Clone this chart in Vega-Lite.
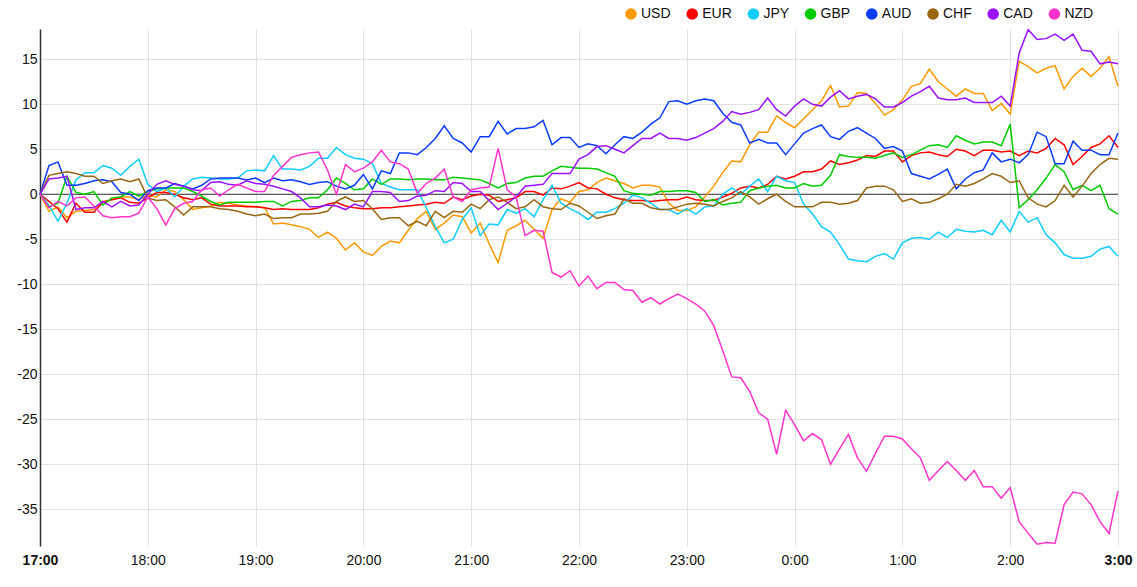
{
"$schema":"https://vega.github.io/schema/vega-lite/v6.json",
"width":1078,"height":517,
"autosize":{"type":"none"},
"padding":{"left":40,"top":29,"right":19,"bottom":41},
"config":{"view":{"stroke":null},"font":"Liberation Sans"},
"layer":[
{"data":{"values":[{}]},
"mark":{"type":"rule","color":"#333333","strokeWidth":1},
"encoding":{"y":{"datum":0,"type":"quantitative","scale":{"domain":[-39.1,18.37],"nice":false,"zero":false}}}},
{"data":{"values":[
{"t":"2024-01-01T17:00","c":"USD","v":0},{"t":"2024-01-01T17:05","c":"USD","v":-1.9},{"t":"2024-01-01T17:10","c":"USD","v":-1.4},{"t":"2024-01-01T17:15","c":"USD","v":-2.6},{"t":"2024-01-01T17:20","c":"USD","v":-1.9},{"t":"2024-01-01T17:25","c":"USD","v":-1.8},{"t":"2024-01-01T17:30","c":"USD","v":-1.7},{"t":"2024-01-01T17:35","c":"USD","v":-0.8},{"t":"2024-01-01T17:40","c":"USD","v":-0.6},{"t":"2024-01-01T17:45","c":"USD","v":-0.3},{"t":"2024-01-01T17:50","c":"USD","v":-0.3},{"t":"2024-01-01T17:55","c":"USD","v":-0.6},
{"t":"2024-01-01T18:00","c":"USD","v":-0.1},{"t":"2024-01-01T18:05","c":"USD","v":-0.3},{"t":"2024-01-01T18:10","c":"USD","v":0.5},{"t":"2024-01-01T18:15","c":"USD","v":0.3},{"t":"2024-01-01T18:20","c":"USD","v":-0.6},{"t":"2024-01-01T18:25","c":"USD","v":-1.7},{"t":"2024-01-01T18:30","c":"USD","v":-1.5},{"t":"2024-01-01T18:35","c":"USD","v":-1.3},{"t":"2024-01-01T18:40","c":"USD","v":-0.9},{"t":"2024-01-01T18:45","c":"USD","v":-1.0},{"t":"2024-01-01T18:50","c":"USD","v":-1.2},{"t":"2024-01-01T18:55","c":"USD","v":-1.3},
{"t":"2024-01-01T19:00","c":"USD","v":-1.4},{"t":"2024-01-01T19:05","c":"USD","v":-1.5},{"t":"2024-01-01T19:10","c":"USD","v":-3.3},{"t":"2024-01-01T19:15","c":"USD","v":-3.2},{"t":"2024-01-01T19:20","c":"USD","v":-3.4},{"t":"2024-01-01T19:25","c":"USD","v":-3.6},{"t":"2024-01-01T19:30","c":"USD","v":-3.9},{"t":"2024-01-01T19:35","c":"USD","v":-4.8},{"t":"2024-01-01T19:40","c":"USD","v":-4.2},{"t":"2024-01-01T19:45","c":"USD","v":-4.9},{"t":"2024-01-01T19:50","c":"USD","v":-6.2},{"t":"2024-01-01T19:55","c":"USD","v":-5.4},
{"t":"2024-01-01T20:00","c":"USD","v":-6.4},{"t":"2024-01-01T20:05","c":"USD","v":-6.8},{"t":"2024-01-01T20:10","c":"USD","v":-5.8},{"t":"2024-01-01T20:15","c":"USD","v":-5.2},{"t":"2024-01-01T20:20","c":"USD","v":-5.4},{"t":"2024-01-01T20:25","c":"USD","v":-4.0},{"t":"2024-01-01T20:30","c":"USD","v":-2.7},{"t":"2024-01-01T20:35","c":"USD","v":-1.9},{"t":"2024-01-01T20:40","c":"USD","v":-3.9},{"t":"2024-01-01T20:45","c":"USD","v":-3.2},{"t":"2024-01-01T20:50","c":"USD","v":-2.3},{"t":"2024-01-01T20:55","c":"USD","v":-2.5},
{"t":"2024-01-01T21:00","c":"USD","v":-4.3},{"t":"2024-01-01T21:05","c":"USD","v":-3.2},{"t":"2024-01-01T21:10","c":"USD","v":-5.5},{"t":"2024-01-01T21:15","c":"USD","v":-7.6},{"t":"2024-01-01T21:20","c":"USD","v":-4.0},{"t":"2024-01-01T21:25","c":"USD","v":-3.5},{"t":"2024-01-01T21:30","c":"USD","v":-2.9},{"t":"2024-01-01T21:35","c":"USD","v":-3.9},{"t":"2024-01-01T21:40","c":"USD","v":-4.9},{"t":"2024-01-01T21:45","c":"USD","v":-1.7},{"t":"2024-01-01T21:50","c":"USD","v":-0.5},{"t":"2024-01-01T21:55","c":"USD","v":-0.9},
{"t":"2024-01-01T22:00","c":"USD","v":0.3},{"t":"2024-01-01T22:05","c":"USD","v":0.5},{"t":"2024-01-01T22:10","c":"USD","v":1.3},{"t":"2024-01-01T22:15","c":"USD","v":1.8},{"t":"2024-01-01T22:20","c":"USD","v":1.5},{"t":"2024-01-01T22:25","c":"USD","v":1.2},{"t":"2024-01-01T22:30","c":"USD","v":0.7},{"t":"2024-01-01T22:35","c":"USD","v":1.0},{"t":"2024-01-01T22:40","c":"USD","v":1.0},{"t":"2024-01-01T22:45","c":"USD","v":0.8},{"t":"2024-01-01T22:50","c":"USD","v":-1.0},{"t":"2024-01-01T22:55","c":"USD","v":-1.8},
{"t":"2024-01-01T23:00","c":"USD","v":-1.8},{"t":"2024-01-01T23:05","c":"USD","v":-1.4},{"t":"2024-01-01T23:10","c":"USD","v":-0.3},{"t":"2024-01-01T23:15","c":"USD","v":0.9},{"t":"2024-01-01T23:20","c":"USD","v":2.4},{"t":"2024-01-01T23:25","c":"USD","v":3.7},{"t":"2024-01-01T23:30","c":"USD","v":3.6},{"t":"2024-01-01T23:35","c":"USD","v":5.5},{"t":"2024-01-01T23:40","c":"USD","v":6.9},{"t":"2024-01-01T23:45","c":"USD","v":6.9},{"t":"2024-01-01T23:50","c":"USD","v":8.7},{"t":"2024-01-01T23:55","c":"USD","v":8.0},
{"t":"2024-01-02T00:00","c":"USD","v":7.4},{"t":"2024-01-02T00:05","c":"USD","v":8.4},{"t":"2024-01-02T00:10","c":"USD","v":9.4},{"t":"2024-01-02T00:15","c":"USD","v":10.4},{"t":"2024-01-02T00:20","c":"USD","v":12.1},{"t":"2024-01-02T00:25","c":"USD","v":9.7},{"t":"2024-01-02T00:30","c":"USD","v":9.8},{"t":"2024-01-02T00:35","c":"USD","v":11.3},{"t":"2024-01-02T00:40","c":"USD","v":11.2},{"t":"2024-01-02T00:45","c":"USD","v":10.1},{"t":"2024-01-02T00:50","c":"USD","v":8.8},{"t":"2024-01-02T00:55","c":"USD","v":9.4},
{"t":"2024-01-02T01:00","c":"USD","v":10.5},{"t":"2024-01-02T01:05","c":"USD","v":12.0},{"t":"2024-01-02T01:10","c":"USD","v":12.3},{"t":"2024-01-02T01:15","c":"USD","v":13.9},{"t":"2024-01-02T01:20","c":"USD","v":12.5},{"t":"2024-01-02T01:25","c":"USD","v":11.7},{"t":"2024-01-02T01:30","c":"USD","v":10.9},{"t":"2024-01-02T01:35","c":"USD","v":11.7},{"t":"2024-01-02T01:40","c":"USD","v":11.2},{"t":"2024-01-02T01:45","c":"USD","v":11.2},{"t":"2024-01-02T01:50","c":"USD","v":9.3},{"t":"2024-01-02T01:55","c":"USD","v":10.1},
{"t":"2024-01-02T02:00","c":"USD","v":8.9},{"t":"2024-01-02T02:05","c":"USD","v":14.8},{"t":"2024-01-02T02:10","c":"USD","v":14.2},{"t":"2024-01-02T02:15","c":"USD","v":13.5},{"t":"2024-01-02T02:20","c":"USD","v":14.0},{"t":"2024-01-02T02:25","c":"USD","v":14.3},{"t":"2024-01-02T02:30","c":"USD","v":11.7},{"t":"2024-01-02T02:35","c":"USD","v":13.1},{"t":"2024-01-02T02:40","c":"USD","v":14.0},{"t":"2024-01-02T02:45","c":"USD","v":13.1},{"t":"2024-01-02T02:50","c":"USD","v":14.0},{"t":"2024-01-02T02:55","c":"USD","v":15.3},
{"t":"2024-01-02T03:00","c":"USD","v":12.0},
{"t":"2024-01-01T17:00","c":"EUR","v":0},{"t":"2024-01-01T17:05","c":"EUR","v":-0.8},{"t":"2024-01-01T17:10","c":"EUR","v":-1.6},{"t":"2024-01-01T17:15","c":"EUR","v":-3.1},{"t":"2024-01-01T17:20","c":"EUR","v":-1.0},{"t":"2024-01-01T17:25","c":"EUR","v":-2.0},{"t":"2024-01-01T17:30","c":"EUR","v":-2.0},{"t":"2024-01-01T17:35","c":"EUR","v":-0.9},{"t":"2024-01-01T17:40","c":"EUR","v":-0.6},{"t":"2024-01-01T17:45","c":"EUR","v":-0.4},{"t":"2024-01-01T17:50","c":"EUR","v":-0.9},{"t":"2024-01-01T17:55","c":"EUR","v":-1.0},
{"t":"2024-01-01T18:00","c":"EUR","v":-0.4},{"t":"2024-01-01T18:05","c":"EUR","v":0.2},{"t":"2024-01-01T18:10","c":"EUR","v":0.2},{"t":"2024-01-01T18:15","c":"EUR","v":0.0},{"t":"2024-01-01T18:20","c":"EUR","v":-0.4},{"t":"2024-01-01T18:25","c":"EUR","v":-0.6},{"t":"2024-01-01T18:30","c":"EUR","v":-0.4},{"t":"2024-01-01T18:35","c":"EUR","v":-1.1},{"t":"2024-01-01T18:40","c":"EUR","v":-1.3},{"t":"2024-01-01T18:45","c":"EUR","v":-1.3},{"t":"2024-01-01T18:50","c":"EUR","v":-1.3},{"t":"2024-01-01T18:55","c":"EUR","v":-1.4},
{"t":"2024-01-01T19:00","c":"EUR","v":-1.4},{"t":"2024-01-01T19:05","c":"EUR","v":-1.5},{"t":"2024-01-01T19:10","c":"EUR","v":-1.7},{"t":"2024-01-01T19:15","c":"EUR","v":-1.6},{"t":"2024-01-01T19:20","c":"EUR","v":-1.7},{"t":"2024-01-01T19:25","c":"EUR","v":-1.7},{"t":"2024-01-01T19:30","c":"EUR","v":-1.7},{"t":"2024-01-01T19:35","c":"EUR","v":-1.5},{"t":"2024-01-01T19:40","c":"EUR","v":-1.1},{"t":"2024-01-01T19:45","c":"EUR","v":-0.9},{"t":"2024-01-01T19:50","c":"EUR","v":-1.3},{"t":"2024-01-01T19:55","c":"EUR","v":-1.5},
{"t":"2024-01-01T20:00","c":"EUR","v":-1.6},{"t":"2024-01-01T20:05","c":"EUR","v":-1.6},{"t":"2024-01-01T20:10","c":"EUR","v":-1.5},{"t":"2024-01-01T20:15","c":"EUR","v":-1.5},{"t":"2024-01-01T20:20","c":"EUR","v":-1.4},{"t":"2024-01-01T20:25","c":"EUR","v":-1.3},{"t":"2024-01-01T20:30","c":"EUR","v":-1.2},{"t":"2024-01-01T20:35","c":"EUR","v":-1.1},{"t":"2024-01-01T20:40","c":"EUR","v":-0.9},{"t":"2024-01-01T20:45","c":"EUR","v":-1.0},{"t":"2024-01-01T20:50","c":"EUR","v":-0.3},{"t":"2024-01-01T20:55","c":"EUR","v":-0.6},
{"t":"2024-01-01T21:00","c":"EUR","v":-0.2},{"t":"2024-01-01T21:05","c":"EUR","v":0.0},{"t":"2024-01-01T21:10","c":"EUR","v":-0.1},{"t":"2024-01-01T21:15","c":"EUR","v":-0.8},{"t":"2024-01-01T21:20","c":"EUR","v":-0.6},{"t":"2024-01-01T21:25","c":"EUR","v":-0.4},{"t":"2024-01-01T21:30","c":"EUR","v":0.3},{"t":"2024-01-01T21:35","c":"EUR","v":0.3},{"t":"2024-01-01T21:40","c":"EUR","v":-0.1},{"t":"2024-01-01T21:45","c":"EUR","v":0.7},{"t":"2024-01-01T21:50","c":"EUR","v":0.6},{"t":"2024-01-01T21:55","c":"EUR","v":0.9},
{"t":"2024-01-01T22:00","c":"EUR","v":1.3},{"t":"2024-01-01T22:05","c":"EUR","v":0.7},{"t":"2024-01-01T22:10","c":"EUR","v":0.6},{"t":"2024-01-01T22:15","c":"EUR","v":0.0},{"t":"2024-01-01T22:20","c":"EUR","v":-0.4},{"t":"2024-01-01T22:25","c":"EUR","v":-0.6},{"t":"2024-01-01T22:30","c":"EUR","v":-0.7},{"t":"2024-01-01T22:35","c":"EUR","v":-0.7},{"t":"2024-01-01T22:40","c":"EUR","v":-0.8},{"t":"2024-01-01T22:45","c":"EUR","v":-0.7},{"t":"2024-01-01T22:50","c":"EUR","v":-0.6},{"t":"2024-01-01T22:55","c":"EUR","v":-0.6},
{"t":"2024-01-01T23:00","c":"EUR","v":-0.3},{"t":"2024-01-01T23:05","c":"EUR","v":-0.6},{"t":"2024-01-01T23:10","c":"EUR","v":-0.7},{"t":"2024-01-01T23:15","c":"EUR","v":-0.7},{"t":"2024-01-01T23:20","c":"EUR","v":-0.3},{"t":"2024-01-01T23:25","c":"EUR","v":0.1},{"t":"2024-01-01T23:30","c":"EUR","v":0.7},{"t":"2024-01-01T23:35","c":"EUR","v":0.9},{"t":"2024-01-01T23:40","c":"EUR","v":0.7},{"t":"2024-01-01T23:45","c":"EUR","v":1.1},{"t":"2024-01-01T23:50","c":"EUR","v":2.0},{"t":"2024-01-01T23:55","c":"EUR","v":1.7},
{"t":"2024-01-02T00:00","c":"EUR","v":2.0},{"t":"2024-01-02T00:05","c":"EUR","v":2.5},{"t":"2024-01-02T00:10","c":"EUR","v":2.5},{"t":"2024-01-02T00:15","c":"EUR","v":2.8},{"t":"2024-01-02T00:20","c":"EUR","v":3.7},{"t":"2024-01-02T00:25","c":"EUR","v":3.3},{"t":"2024-01-02T00:30","c":"EUR","v":3.5},{"t":"2024-01-02T00:35","c":"EUR","v":3.8},{"t":"2024-01-02T00:40","c":"EUR","v":4.3},{"t":"2024-01-02T00:45","c":"EUR","v":4.2},{"t":"2024-01-02T00:50","c":"EUR","v":4.8},{"t":"2024-01-02T00:55","c":"EUR","v":4.8},
{"t":"2024-01-02T01:00","c":"EUR","v":3.6},{"t":"2024-01-02T01:05","c":"EUR","v":4.3},{"t":"2024-01-02T01:10","c":"EUR","v":4.6},{"t":"2024-01-02T01:15","c":"EUR","v":4.7},{"t":"2024-01-02T01:20","c":"EUR","v":4.4},{"t":"2024-01-02T01:25","c":"EUR","v":4.2},{"t":"2024-01-02T01:30","c":"EUR","v":5.0},{"t":"2024-01-02T01:35","c":"EUR","v":4.8},{"t":"2024-01-02T01:40","c":"EUR","v":4.3},{"t":"2024-01-02T01:45","c":"EUR","v":4.9},{"t":"2024-01-02T01:50","c":"EUR","v":4.9},{"t":"2024-01-02T01:55","c":"EUR","v":4.7},
{"t":"2024-01-02T02:00","c":"EUR","v":4.8},{"t":"2024-01-02T02:05","c":"EUR","v":4.3},{"t":"2024-01-02T02:10","c":"EUR","v":4.8},{"t":"2024-01-02T02:15","c":"EUR","v":4.6},{"t":"2024-01-02T02:20","c":"EUR","v":5.1},{"t":"2024-01-02T02:25","c":"EUR","v":6.2},{"t":"2024-01-02T02:30","c":"EUR","v":5.5},{"t":"2024-01-02T02:35","c":"EUR","v":3.3},{"t":"2024-01-02T02:40","c":"EUR","v":4.2},{"t":"2024-01-02T02:45","c":"EUR","v":5.2},{"t":"2024-01-02T02:50","c":"EUR","v":5.6},{"t":"2024-01-02T02:55","c":"EUR","v":6.5},
{"t":"2024-01-02T03:00","c":"EUR","v":5.2},
{"t":"2024-01-01T17:00","c":"JPY","v":0},{"t":"2024-01-01T17:05","c":"JPY","v":-1.2},{"t":"2024-01-01T17:10","c":"JPY","v":-3.0},{"t":"2024-01-01T17:15","c":"JPY","v":-1.0},{"t":"2024-01-01T17:20","c":"JPY","v":1.6},{"t":"2024-01-01T17:25","c":"JPY","v":2.4},{"t":"2024-01-01T17:30","c":"JPY","v":2.4},{"t":"2024-01-01T17:35","c":"JPY","v":3.2},{"t":"2024-01-01T17:40","c":"JPY","v":2.9},{"t":"2024-01-01T17:45","c":"JPY","v":2.1},{"t":"2024-01-01T17:50","c":"JPY","v":3.1},{"t":"2024-01-01T17:55","c":"JPY","v":3.9},
{"t":"2024-01-01T18:00","c":"JPY","v":1.1},{"t":"2024-01-01T18:05","c":"JPY","v":0.3},{"t":"2024-01-01T18:10","c":"JPY","v":0.7},{"t":"2024-01-01T18:15","c":"JPY","v":-0.3},{"t":"2024-01-01T18:20","c":"JPY","v":0.9},{"t":"2024-01-01T18:25","c":"JPY","v":1.7},{"t":"2024-01-01T18:30","c":"JPY","v":1.9},{"t":"2024-01-01T18:35","c":"JPY","v":1.8},{"t":"2024-01-01T18:40","c":"JPY","v":1.7},{"t":"2024-01-01T18:45","c":"JPY","v":1.7},{"t":"2024-01-01T18:50","c":"JPY","v":1.8},{"t":"2024-01-01T18:55","c":"JPY","v":2.6},
{"t":"2024-01-01T19:00","c":"JPY","v":2.7},{"t":"2024-01-01T19:05","c":"JPY","v":2.6},{"t":"2024-01-01T19:10","c":"JPY","v":4.3},{"t":"2024-01-01T19:15","c":"JPY","v":2.8},{"t":"2024-01-01T19:20","c":"JPY","v":2.8},{"t":"2024-01-01T19:25","c":"JPY","v":2.7},{"t":"2024-01-01T19:30","c":"JPY","v":3.1},{"t":"2024-01-01T19:35","c":"JPY","v":4.0},{"t":"2024-01-01T19:40","c":"JPY","v":4.0},{"t":"2024-01-01T19:45","c":"JPY","v":5.2},{"t":"2024-01-01T19:50","c":"JPY","v":4.4},{"t":"2024-01-01T19:55","c":"JPY","v":4.0},
{"t":"2024-01-01T20:00","c":"JPY","v":3.9},{"t":"2024-01-01T20:05","c":"JPY","v":3.4},{"t":"2024-01-01T20:10","c":"JPY","v":1.2},{"t":"2024-01-01T20:15","c":"JPY","v":0.8},{"t":"2024-01-01T20:20","c":"JPY","v":0.5},{"t":"2024-01-01T20:25","c":"JPY","v":0.5},{"t":"2024-01-01T20:30","c":"JPY","v":0.5},{"t":"2024-01-01T20:35","c":"JPY","v":-1.5},{"t":"2024-01-01T20:40","c":"JPY","v":-3.6},{"t":"2024-01-01T20:45","c":"JPY","v":-5.4},{"t":"2024-01-01T20:50","c":"JPY","v":-5.0},{"t":"2024-01-01T20:55","c":"JPY","v":-2.8},
{"t":"2024-01-01T21:00","c":"JPY","v":-1.5},{"t":"2024-01-01T21:05","c":"JPY","v":-4.6},{"t":"2024-01-01T21:10","c":"JPY","v":-3.3},{"t":"2024-01-01T21:15","c":"JPY","v":-3.4},{"t":"2024-01-01T21:20","c":"JPY","v":-1.7},{"t":"2024-01-01T21:25","c":"JPY","v":-2.1},{"t":"2024-01-01T21:30","c":"JPY","v":-1.6},{"t":"2024-01-01T21:35","c":"JPY","v":-2.5},{"t":"2024-01-01T21:40","c":"JPY","v":-0.6},{"t":"2024-01-01T21:45","c":"JPY","v":1.0},{"t":"2024-01-01T21:50","c":"JPY","v":-1.0},{"t":"2024-01-01T21:55","c":"JPY","v":-1.6},
{"t":"2024-01-01T22:00","c":"JPY","v":-2.1},{"t":"2024-01-01T22:05","c":"JPY","v":-2.8},{"t":"2024-01-01T22:10","c":"JPY","v":-2.0},{"t":"2024-01-01T22:15","c":"JPY","v":-2.0},{"t":"2024-01-01T22:20","c":"JPY","v":-1.6},{"t":"2024-01-01T22:25","c":"JPY","v":-1.0},{"t":"2024-01-01T22:30","c":"JPY","v":-0.1},{"t":"2024-01-01T22:35","c":"JPY","v":-0.4},{"t":"2024-01-01T22:40","c":"JPY","v":-1.0},{"t":"2024-01-01T22:45","c":"JPY","v":-1.7},{"t":"2024-01-01T22:50","c":"JPY","v":-1.7},{"t":"2024-01-01T22:55","c":"JPY","v":-2.2},
{"t":"2024-01-01T23:00","c":"JPY","v":-1.6},{"t":"2024-01-01T23:05","c":"JPY","v":-2.2},{"t":"2024-01-01T23:10","c":"JPY","v":-1.4},{"t":"2024-01-01T23:15","c":"JPY","v":-1.3},{"t":"2024-01-01T23:20","c":"JPY","v":0.0},{"t":"2024-01-01T23:25","c":"JPY","v":0.7},{"t":"2024-01-01T23:30","c":"JPY","v":0.0},{"t":"2024-01-01T23:35","c":"JPY","v":0.9},{"t":"2024-01-01T23:40","c":"JPY","v":1.7},{"t":"2024-01-01T23:45","c":"JPY","v":0.3},{"t":"2024-01-01T23:50","c":"JPY","v":2.0},{"t":"2024-01-01T23:55","c":"JPY","v":1.5},
{"t":"2024-01-02T00:00","c":"JPY","v":1.3},{"t":"2024-01-02T00:05","c":"JPY","v":-1.1},{"t":"2024-01-02T00:10","c":"JPY","v":-2.2},{"t":"2024-01-02T00:15","c":"JPY","v":-3.6},{"t":"2024-01-02T00:20","c":"JPY","v":-4.2},{"t":"2024-01-02T00:25","c":"JPY","v":-5.6},{"t":"2024-01-02T00:30","c":"JPY","v":-7.2},{"t":"2024-01-02T00:35","c":"JPY","v":-7.4},{"t":"2024-01-02T00:40","c":"JPY","v":-7.5},{"t":"2024-01-02T00:45","c":"JPY","v":-6.9},{"t":"2024-01-02T00:50","c":"JPY","v":-6.6},{"t":"2024-01-02T00:55","c":"JPY","v":-7.2},
{"t":"2024-01-02T01:00","c":"JPY","v":-5.4},{"t":"2024-01-02T01:05","c":"JPY","v":-4.9},{"t":"2024-01-02T01:10","c":"JPY","v":-4.8},{"t":"2024-01-02T01:15","c":"JPY","v":-5.0},{"t":"2024-01-02T01:20","c":"JPY","v":-4.2},{"t":"2024-01-02T01:25","c":"JPY","v":-4.8},{"t":"2024-01-02T01:30","c":"JPY","v":-3.9},{"t":"2024-01-02T01:35","c":"JPY","v":-4.1},{"t":"2024-01-02T01:40","c":"JPY","v":-4.2},{"t":"2024-01-02T01:45","c":"JPY","v":-4.0},{"t":"2024-01-02T01:50","c":"JPY","v":-4.5},{"t":"2024-01-02T01:55","c":"JPY","v":-2.9},
{"t":"2024-01-02T02:00","c":"JPY","v":-4.2},{"t":"2024-01-02T02:05","c":"JPY","v":-1.9},{"t":"2024-01-02T02:10","c":"JPY","v":-3.1},{"t":"2024-01-02T02:15","c":"JPY","v":-2.6},{"t":"2024-01-02T02:20","c":"JPY","v":-4.5},{"t":"2024-01-02T02:25","c":"JPY","v":-5.4},{"t":"2024-01-02T02:30","c":"JPY","v":-6.7},{"t":"2024-01-02T02:35","c":"JPY","v":-7.1},{"t":"2024-01-02T02:40","c":"JPY","v":-7.1},{"t":"2024-01-02T02:45","c":"JPY","v":-6.9},{"t":"2024-01-02T02:50","c":"JPY","v":-6.1},{"t":"2024-01-02T02:55","c":"JPY","v":-5.8},
{"t":"2024-01-02T03:00","c":"JPY","v":-6.9},
{"t":"2024-01-01T17:00","c":"GBP","v":0},{"t":"2024-01-01T17:05","c":"GBP","v":-1.4},{"t":"2024-01-01T17:10","c":"GBP","v":-1.0},{"t":"2024-01-01T17:15","c":"GBP","v":2.0},{"t":"2024-01-01T17:20","c":"GBP","v":0.2},{"t":"2024-01-01T17:25","c":"GBP","v":0.0},{"t":"2024-01-01T17:30","c":"GBP","v":0.3},{"t":"2024-01-01T17:35","c":"GBP","v":-1.2},{"t":"2024-01-01T17:40","c":"GBP","v":-0.4},{"t":"2024-01-01T17:45","c":"GBP","v":-0.3},{"t":"2024-01-01T17:50","c":"GBP","v":0.3},{"t":"2024-01-01T17:55","c":"GBP","v":-0.2},
{"t":"2024-01-01T18:00","c":"GBP","v":0.3},{"t":"2024-01-01T18:05","c":"GBP","v":0.6},{"t":"2024-01-01T18:10","c":"GBP","v":0.7},{"t":"2024-01-01T18:15","c":"GBP","v":0.7},{"t":"2024-01-01T18:20","c":"GBP","v":0.7},{"t":"2024-01-01T18:25","c":"GBP","v":0.3},{"t":"2024-01-01T18:30","c":"GBP","v":-0.2},{"t":"2024-01-01T18:35","c":"GBP","v":-0.8},{"t":"2024-01-01T18:40","c":"GBP","v":-1.2},{"t":"2024-01-01T18:45","c":"GBP","v":-0.9},{"t":"2024-01-01T18:50","c":"GBP","v":-0.9},{"t":"2024-01-01T18:55","c":"GBP","v":-0.9},
{"t":"2024-01-01T19:00","c":"GBP","v":-0.9},{"t":"2024-01-01T19:05","c":"GBP","v":-0.8},{"t":"2024-01-01T19:10","c":"GBP","v":-0.8},{"t":"2024-01-01T19:15","c":"GBP","v":-1.3},{"t":"2024-01-01T19:20","c":"GBP","v":-0.8},{"t":"2024-01-01T19:25","c":"GBP","v":-0.7},{"t":"2024-01-01T19:30","c":"GBP","v":-0.4},{"t":"2024-01-01T19:35","c":"GBP","v":-0.4},{"t":"2024-01-01T19:40","c":"GBP","v":0.5},{"t":"2024-01-01T19:45","c":"GBP","v":1.8},{"t":"2024-01-01T19:50","c":"GBP","v":1.2},{"t":"2024-01-01T19:55","c":"GBP","v":0.5},
{"t":"2024-01-01T20:00","c":"GBP","v":0.6},{"t":"2024-01-01T20:05","c":"GBP","v":1.7},{"t":"2024-01-01T20:10","c":"GBP","v":1.1},{"t":"2024-01-01T20:15","c":"GBP","v":1.7},{"t":"2024-01-01T20:20","c":"GBP","v":1.7},{"t":"2024-01-01T20:25","c":"GBP","v":1.6},{"t":"2024-01-01T20:30","c":"GBP","v":1.7},{"t":"2024-01-01T20:35","c":"GBP","v":1.7},{"t":"2024-01-01T20:40","c":"GBP","v":1.6},{"t":"2024-01-01T20:45","c":"GBP","v":1.6},{"t":"2024-01-01T20:50","c":"GBP","v":1.9},{"t":"2024-01-01T20:55","c":"GBP","v":1.8},
{"t":"2024-01-01T21:00","c":"GBP","v":1.7},{"t":"2024-01-01T21:05","c":"GBP","v":1.6},{"t":"2024-01-01T21:10","c":"GBP","v":1.2},{"t":"2024-01-01T21:15","c":"GBP","v":0.7},{"t":"2024-01-01T21:20","c":"GBP","v":1.2},{"t":"2024-01-01T21:25","c":"GBP","v":1.3},{"t":"2024-01-01T21:30","c":"GBP","v":1.8},{"t":"2024-01-01T21:35","c":"GBP","v":2.0},{"t":"2024-01-01T21:40","c":"GBP","v":2.0},{"t":"2024-01-01T21:45","c":"GBP","v":2.6},{"t":"2024-01-01T21:50","c":"GBP","v":3.1},{"t":"2024-01-01T21:55","c":"GBP","v":3.0},
{"t":"2024-01-01T22:00","c":"GBP","v":2.9},{"t":"2024-01-01T22:05","c":"GBP","v":2.9},{"t":"2024-01-01T22:10","c":"GBP","v":2.8},{"t":"2024-01-01T22:15","c":"GBP","v":2.4},{"t":"2024-01-01T22:20","c":"GBP","v":2.0},{"t":"2024-01-01T22:25","c":"GBP","v":0.4},{"t":"2024-01-01T22:30","c":"GBP","v":0.1},{"t":"2024-01-01T22:35","c":"GBP","v":0.0},{"t":"2024-01-01T22:40","c":"GBP","v":-0.1},{"t":"2024-01-01T22:45","c":"GBP","v":0.3},{"t":"2024-01-01T22:50","c":"GBP","v":0.3},{"t":"2024-01-01T22:55","c":"GBP","v":0.4},
{"t":"2024-01-01T23:00","c":"GBP","v":0.4},{"t":"2024-01-01T23:05","c":"GBP","v":0.2},{"t":"2024-01-01T23:10","c":"GBP","v":-0.8},{"t":"2024-01-01T23:15","c":"GBP","v":-0.6},{"t":"2024-01-01T23:20","c":"GBP","v":-1.2},{"t":"2024-01-01T23:25","c":"GBP","v":-1.0},{"t":"2024-01-01T23:30","c":"GBP","v":-0.9},{"t":"2024-01-01T23:35","c":"GBP","v":0.4},{"t":"2024-01-01T23:40","c":"GBP","v":0.7},{"t":"2024-01-01T23:45","c":"GBP","v":0.9},{"t":"2024-01-01T23:50","c":"GBP","v":1.0},{"t":"2024-01-01T23:55","c":"GBP","v":0.7},
{"t":"2024-01-02T00:00","c":"GBP","v":0.7},{"t":"2024-01-02T00:05","c":"GBP","v":1.2},{"t":"2024-01-02T00:10","c":"GBP","v":0.9},{"t":"2024-01-02T00:15","c":"GBP","v":1.0},{"t":"2024-01-02T00:20","c":"GBP","v":2.1},{"t":"2024-01-02T00:25","c":"GBP","v":4.4},{"t":"2024-01-02T00:30","c":"GBP","v":4.2},{"t":"2024-01-02T00:35","c":"GBP","v":4.1},{"t":"2024-01-02T00:40","c":"GBP","v":4.1},{"t":"2024-01-02T00:45","c":"GBP","v":4.0},{"t":"2024-01-02T00:50","c":"GBP","v":4.3},{"t":"2024-01-02T00:55","c":"GBP","v":4.6},
{"t":"2024-01-02T01:00","c":"GBP","v":4.1},{"t":"2024-01-02T01:05","c":"GBP","v":4.4},{"t":"2024-01-02T01:10","c":"GBP","v":4.9},{"t":"2024-01-02T01:15","c":"GBP","v":5.4},{"t":"2024-01-02T01:20","c":"GBP","v":5.5},{"t":"2024-01-02T01:25","c":"GBP","v":5.2},{"t":"2024-01-02T01:30","c":"GBP","v":6.5},{"t":"2024-01-02T01:35","c":"GBP","v":6.0},{"t":"2024-01-02T01:40","c":"GBP","v":5.6},{"t":"2024-01-02T01:45","c":"GBP","v":5.8},{"t":"2024-01-02T01:50","c":"GBP","v":5.8},{"t":"2024-01-02T01:55","c":"GBP","v":5.4},
{"t":"2024-01-02T02:00","c":"GBP","v":7.8},{"t":"2024-01-02T02:05","c":"GBP","v":-1.5},{"t":"2024-01-02T02:10","c":"GBP","v":-0.6},{"t":"2024-01-02T02:15","c":"GBP","v":0.5},{"t":"2024-01-02T02:20","c":"GBP","v":1.8},{"t":"2024-01-02T02:25","c":"GBP","v":3.3},{"t":"2024-01-02T02:30","c":"GBP","v":2.5},{"t":"2024-01-02T02:35","c":"GBP","v":0.5},{"t":"2024-01-02T02:40","c":"GBP","v":1.0},{"t":"2024-01-02T02:45","c":"GBP","v":0.4},{"t":"2024-01-02T02:50","c":"GBP","v":1.0},{"t":"2024-01-02T02:55","c":"GBP","v":-1.6},
{"t":"2024-01-02T03:00","c":"GBP","v":-2.2},
{"t":"2024-01-01T17:00","c":"AUD","v":0},{"t":"2024-01-01T17:05","c":"AUD","v":3.2},{"t":"2024-01-01T17:10","c":"AUD","v":3.6},{"t":"2024-01-01T17:15","c":"AUD","v":1.0},{"t":"2024-01-01T17:20","c":"AUD","v":1.0},{"t":"2024-01-01T17:25","c":"AUD","v":1.2},{"t":"2024-01-01T17:30","c":"AUD","v":1.5},{"t":"2024-01-01T17:35","c":"AUD","v":1.6},{"t":"2024-01-01T17:40","c":"AUD","v":1.4},{"t":"2024-01-01T17:45","c":"AUD","v":0.2},{"t":"2024-01-01T17:50","c":"AUD","v":0.0},{"t":"2024-01-01T17:55","c":"AUD","v":-0.7},
{"t":"2024-01-01T18:00","c":"AUD","v":0.4},{"t":"2024-01-01T18:05","c":"AUD","v":0.7},{"t":"2024-01-01T18:10","c":"AUD","v":0.7},{"t":"2024-01-01T18:15","c":"AUD","v":1.2},{"t":"2024-01-01T18:20","c":"AUD","v":0.9},{"t":"2024-01-01T18:25","c":"AUD","v":0.6},{"t":"2024-01-01T18:30","c":"AUD","v":1.0},{"t":"2024-01-01T18:35","c":"AUD","v":1.7},{"t":"2024-01-01T18:40","c":"AUD","v":1.8},{"t":"2024-01-01T18:45","c":"AUD","v":1.8},{"t":"2024-01-01T18:50","c":"AUD","v":1.8},{"t":"2024-01-01T18:55","c":"AUD","v":1.6},
{"t":"2024-01-01T19:00","c":"AUD","v":1.8},{"t":"2024-01-01T19:05","c":"AUD","v":1.3},{"t":"2024-01-01T19:10","c":"AUD","v":1.8},{"t":"2024-01-01T19:15","c":"AUD","v":1.5},{"t":"2024-01-01T19:20","c":"AUD","v":1.6},{"t":"2024-01-01T19:25","c":"AUD","v":1.4},{"t":"2024-01-01T19:30","c":"AUD","v":1.1},{"t":"2024-01-01T19:35","c":"AUD","v":1.3},{"t":"2024-01-01T19:40","c":"AUD","v":1.4},{"t":"2024-01-01T19:45","c":"AUD","v":0.9},{"t":"2024-01-01T19:50","c":"AUD","v":0.6},{"t":"2024-01-01T19:55","c":"AUD","v":1.0},
{"t":"2024-01-01T20:00","c":"AUD","v":2.2},{"t":"2024-01-01T20:05","c":"AUD","v":0.6},{"t":"2024-01-01T20:10","c":"AUD","v":2.6},{"t":"2024-01-01T20:15","c":"AUD","v":2.3},{"t":"2024-01-01T20:20","c":"AUD","v":4.6},{"t":"2024-01-01T20:25","c":"AUD","v":4.6},{"t":"2024-01-01T20:30","c":"AUD","v":4.4},{"t":"2024-01-01T20:35","c":"AUD","v":5.2},{"t":"2024-01-01T20:40","c":"AUD","v":6.2},{"t":"2024-01-01T20:45","c":"AUD","v":7.6},{"t":"2024-01-01T20:50","c":"AUD","v":6.2},{"t":"2024-01-01T20:55","c":"AUD","v":5.7},
{"t":"2024-01-01T21:00","c":"AUD","v":4.7},{"t":"2024-01-01T21:05","c":"AUD","v":6.4},{"t":"2024-01-01T21:10","c":"AUD","v":6.4},{"t":"2024-01-01T21:15","c":"AUD","v":8.1},{"t":"2024-01-01T21:20","c":"AUD","v":6.7},{"t":"2024-01-01T21:25","c":"AUD","v":7.3},{"t":"2024-01-01T21:30","c":"AUD","v":7.3},{"t":"2024-01-01T21:35","c":"AUD","v":7.5},{"t":"2024-01-01T21:40","c":"AUD","v":8.2},{"t":"2024-01-01T21:45","c":"AUD","v":5.5},{"t":"2024-01-01T21:50","c":"AUD","v":6.3},{"t":"2024-01-01T21:55","c":"AUD","v":6.3},
{"t":"2024-01-01T22:00","c":"AUD","v":5.2},{"t":"2024-01-01T22:05","c":"AUD","v":5.6},{"t":"2024-01-01T22:10","c":"AUD","v":5.4},{"t":"2024-01-01T22:15","c":"AUD","v":4.5},{"t":"2024-01-01T22:20","c":"AUD","v":5.5},{"t":"2024-01-01T22:25","c":"AUD","v":6.4},{"t":"2024-01-01T22:30","c":"AUD","v":6.2},{"t":"2024-01-01T22:35","c":"AUD","v":6.9},{"t":"2024-01-01T22:40","c":"AUD","v":7.8},{"t":"2024-01-01T22:45","c":"AUD","v":8.5},{"t":"2024-01-01T22:50","c":"AUD","v":10.3},{"t":"2024-01-01T22:55","c":"AUD","v":10.4},
{"t":"2024-01-01T23:00","c":"AUD","v":10.0},{"t":"2024-01-01T23:05","c":"AUD","v":10.4},{"t":"2024-01-01T23:10","c":"AUD","v":10.6},{"t":"2024-01-01T23:15","c":"AUD","v":10.4},{"t":"2024-01-01T23:20","c":"AUD","v":9.0},{"t":"2024-01-01T23:25","c":"AUD","v":8.0},{"t":"2024-01-01T23:30","c":"AUD","v":7.7},{"t":"2024-01-01T23:35","c":"AUD","v":5.7},{"t":"2024-01-01T23:40","c":"AUD","v":6.1},{"t":"2024-01-01T23:45","c":"AUD","v":5.7},{"t":"2024-01-01T23:50","c":"AUD","v":5.7},{"t":"2024-01-01T23:55","c":"AUD","v":4.4},
{"t":"2024-01-02T00:00","c":"AUD","v":5.6},{"t":"2024-01-02T00:05","c":"AUD","v":6.8},{"t":"2024-01-02T00:10","c":"AUD","v":7.3},{"t":"2024-01-02T00:15","c":"AUD","v":7.7},{"t":"2024-01-02T00:20","c":"AUD","v":6.4},{"t":"2024-01-02T00:25","c":"AUD","v":6.1},{"t":"2024-01-02T00:30","c":"AUD","v":7.0},{"t":"2024-01-02T00:35","c":"AUD","v":7.4},{"t":"2024-01-02T00:40","c":"AUD","v":6.8},{"t":"2024-01-02T00:45","c":"AUD","v":6.2},{"t":"2024-01-02T00:50","c":"AUD","v":5.1},{"t":"2024-01-02T00:55","c":"AUD","v":5.3},
{"t":"2024-01-02T01:00","c":"AUD","v":4.8},{"t":"2024-01-02T01:05","c":"AUD","v":2.3},{"t":"2024-01-02T01:10","c":"AUD","v":2.0},{"t":"2024-01-02T01:15","c":"AUD","v":1.7},{"t":"2024-01-02T01:20","c":"AUD","v":2.2},{"t":"2024-01-02T01:25","c":"AUD","v":2.8},{"t":"2024-01-02T01:30","c":"AUD","v":0.6},{"t":"2024-01-02T01:35","c":"AUD","v":1.7},{"t":"2024-01-02T01:40","c":"AUD","v":2.4},{"t":"2024-01-02T01:45","c":"AUD","v":2.7},{"t":"2024-01-02T01:50","c":"AUD","v":4.6},{"t":"2024-01-02T01:55","c":"AUD","v":3.6},
{"t":"2024-01-02T02:00","c":"AUD","v":3.9},{"t":"2024-01-02T02:05","c":"AUD","v":3.5},{"t":"2024-01-02T02:10","c":"AUD","v":4.4},{"t":"2024-01-02T02:15","c":"AUD","v":6.9},{"t":"2024-01-02T02:20","c":"AUD","v":6.4},{"t":"2024-01-02T02:25","c":"AUD","v":3.4},{"t":"2024-01-02T02:30","c":"AUD","v":3.4},{"t":"2024-01-02T02:35","c":"AUD","v":5.9},{"t":"2024-01-02T02:40","c":"AUD","v":4.9},{"t":"2024-01-02T02:45","c":"AUD","v":4.9},{"t":"2024-01-02T02:50","c":"AUD","v":4.4},{"t":"2024-01-02T02:55","c":"AUD","v":4.4},
{"t":"2024-01-02T03:00","c":"AUD","v":6.8},
{"t":"2024-01-01T17:00","c":"CHF","v":0},{"t":"2024-01-01T17:05","c":"CHF","v":2.1},{"t":"2024-01-01T17:10","c":"CHF","v":2.3},{"t":"2024-01-01T17:15","c":"CHF","v":2.5},{"t":"2024-01-01T17:20","c":"CHF","v":2.3},{"t":"2024-01-01T17:25","c":"CHF","v":2.0},{"t":"2024-01-01T17:30","c":"CHF","v":2.0},{"t":"2024-01-01T17:35","c":"CHF","v":1.2},{"t":"2024-01-01T17:40","c":"CHF","v":1.5},{"t":"2024-01-01T17:45","c":"CHF","v":1.7},{"t":"2024-01-01T17:50","c":"CHF","v":1.4},{"t":"2024-01-01T17:55","c":"CHF","v":1.7},
{"t":"2024-01-01T18:00","c":"CHF","v":-0.4},{"t":"2024-01-01T18:05","c":"CHF","v":-0.7},{"t":"2024-01-01T18:10","c":"CHF","v":-0.6},{"t":"2024-01-01T18:15","c":"CHF","v":-1.4},{"t":"2024-01-01T18:20","c":"CHF","v":-2.3},{"t":"2024-01-01T18:25","c":"CHF","v":-1.4},{"t":"2024-01-01T18:30","c":"CHF","v":-1.4},{"t":"2024-01-01T18:35","c":"CHF","v":-1.4},{"t":"2024-01-01T18:40","c":"CHF","v":-1.6},{"t":"2024-01-01T18:45","c":"CHF","v":-1.7},{"t":"2024-01-01T18:50","c":"CHF","v":-1.9},{"t":"2024-01-01T18:55","c":"CHF","v":-2.2},
{"t":"2024-01-01T19:00","c":"CHF","v":-2.4},{"t":"2024-01-01T19:05","c":"CHF","v":-2.2},{"t":"2024-01-01T19:10","c":"CHF","v":-2.7},{"t":"2024-01-01T19:15","c":"CHF","v":-2.6},{"t":"2024-01-01T19:20","c":"CHF","v":-2.6},{"t":"2024-01-01T19:25","c":"CHF","v":-2.2},{"t":"2024-01-01T19:30","c":"CHF","v":-2.2},{"t":"2024-01-01T19:35","c":"CHF","v":-2.1},{"t":"2024-01-01T19:40","c":"CHF","v":-1.9},{"t":"2024-01-01T19:45","c":"CHF","v":-0.8},{"t":"2024-01-01T19:50","c":"CHF","v":-0.3},{"t":"2024-01-01T19:55","c":"CHF","v":-0.8},
{"t":"2024-01-01T20:00","c":"CHF","v":-0.7},{"t":"2024-01-01T20:05","c":"CHF","v":-1.6},{"t":"2024-01-01T20:10","c":"CHF","v":-2.8},{"t":"2024-01-01T20:15","c":"CHF","v":-2.6},{"t":"2024-01-01T20:20","c":"CHF","v":-2.6},{"t":"2024-01-01T20:25","c":"CHF","v":-3.5},{"t":"2024-01-01T20:30","c":"CHF","v":-3.0},{"t":"2024-01-01T20:35","c":"CHF","v":-3.5},{"t":"2024-01-01T20:40","c":"CHF","v":-1.9},{"t":"2024-01-01T20:45","c":"CHF","v":-2.6},{"t":"2024-01-01T20:50","c":"CHF","v":-1.9},{"t":"2024-01-01T20:55","c":"CHF","v":-2.0},
{"t":"2024-01-01T21:00","c":"CHF","v":-1.1},{"t":"2024-01-01T21:05","c":"CHF","v":-1.6},{"t":"2024-01-01T21:10","c":"CHF","v":-0.6},{"t":"2024-01-01T21:15","c":"CHF","v":-0.3},{"t":"2024-01-01T21:20","c":"CHF","v":-0.9},{"t":"2024-01-01T21:25","c":"CHF","v":-1.6},{"t":"2024-01-01T21:30","c":"CHF","v":-1.4},{"t":"2024-01-01T21:35","c":"CHF","v":-0.6},{"t":"2024-01-01T21:40","c":"CHF","v":-1.4},{"t":"2024-01-01T21:45","c":"CHF","v":-1.6},{"t":"2024-01-01T21:50","c":"CHF","v":-1.7},{"t":"2024-01-01T21:55","c":"CHF","v":-1.0},
{"t":"2024-01-01T22:00","c":"CHF","v":-1.3},{"t":"2024-01-01T22:05","c":"CHF","v":-2.0},{"t":"2024-01-01T22:10","c":"CHF","v":-2.7},{"t":"2024-01-01T22:15","c":"CHF","v":-2.4},{"t":"2024-01-01T22:20","c":"CHF","v":-2.2},{"t":"2024-01-01T22:25","c":"CHF","v":-0.5},{"t":"2024-01-01T22:30","c":"CHF","v":-1.0},{"t":"2024-01-01T22:35","c":"CHF","v":-1.0},{"t":"2024-01-01T22:40","c":"CHF","v":-1.5},{"t":"2024-01-01T22:45","c":"CHF","v":-1.7},{"t":"2024-01-01T22:50","c":"CHF","v":-1.7},{"t":"2024-01-01T22:55","c":"CHF","v":-1.4},
{"t":"2024-01-01T23:00","c":"CHF","v":-1.1},{"t":"2024-01-01T23:05","c":"CHF","v":-1.0},{"t":"2024-01-01T23:10","c":"CHF","v":-1.1},{"t":"2024-01-01T23:15","c":"CHF","v":-1.3},{"t":"2024-01-01T23:20","c":"CHF","v":-0.8},{"t":"2024-01-01T23:25","c":"CHF","v":-0.4},{"t":"2024-01-01T23:30","c":"CHF","v":0.3},{"t":"2024-01-01T23:35","c":"CHF","v":-0.3},{"t":"2024-01-01T23:40","c":"CHF","v":-1.1},{"t":"2024-01-01T23:45","c":"CHF","v":-0.5},{"t":"2024-01-01T23:50","c":"CHF","v":0.0},{"t":"2024-01-01T23:55","c":"CHF","v":-0.8},
{"t":"2024-01-02T00:00","c":"CHF","v":-1.4},{"t":"2024-01-02T00:05","c":"CHF","v":-1.4},{"t":"2024-01-02T00:10","c":"CHF","v":-1.4},{"t":"2024-01-02T00:15","c":"CHF","v":-0.9},{"t":"2024-01-02T00:20","c":"CHF","v":-0.9},{"t":"2024-01-02T00:25","c":"CHF","v":-1.1},{"t":"2024-01-02T00:30","c":"CHF","v":-1.0},{"t":"2024-01-02T00:35","c":"CHF","v":-0.7},{"t":"2024-01-02T00:40","c":"CHF","v":0.7},{"t":"2024-01-02T00:45","c":"CHF","v":0.9},{"t":"2024-01-02T00:50","c":"CHF","v":0.9},{"t":"2024-01-02T00:55","c":"CHF","v":0.5},
{"t":"2024-01-02T01:00","c":"CHF","v":-0.8},{"t":"2024-01-02T01:05","c":"CHF","v":-0.5},{"t":"2024-01-02T01:10","c":"CHF","v":-1.0},{"t":"2024-01-02T01:15","c":"CHF","v":-0.9},{"t":"2024-01-02T01:20","c":"CHF","v":-0.5},{"t":"2024-01-02T01:25","c":"CHF","v":0.0},{"t":"2024-01-02T01:30","c":"CHF","v":1.1},{"t":"2024-01-02T01:35","c":"CHF","v":0.9},{"t":"2024-01-02T01:40","c":"CHF","v":1.2},{"t":"2024-01-02T01:45","c":"CHF","v":1.7},{"t":"2024-01-02T01:50","c":"CHF","v":2.3},{"t":"2024-01-02T01:55","c":"CHF","v":2.0},
{"t":"2024-01-02T02:00","c":"CHF","v":1.3},{"t":"2024-01-02T02:05","c":"CHF","v":1.5},{"t":"2024-01-02T02:10","c":"CHF","v":-0.4},{"t":"2024-01-02T02:15","c":"CHF","v":-1.1},{"t":"2024-01-02T02:20","c":"CHF","v":-1.4},{"t":"2024-01-02T02:25","c":"CHF","v":-0.7},{"t":"2024-01-02T02:30","c":"CHF","v":1.0},{"t":"2024-01-02T02:35","c":"CHF","v":-0.3},{"t":"2024-01-02T02:40","c":"CHF","v":0.9},{"t":"2024-01-02T02:45","c":"CHF","v":2.3},{"t":"2024-01-02T02:50","c":"CHF","v":3.3},{"t":"2024-01-02T02:55","c":"CHF","v":4.0},
{"t":"2024-01-02T03:00","c":"CHF","v":3.9},
{"t":"2024-01-01T17:00","c":"CAD","v":0},{"t":"2024-01-01T17:05","c":"CAD","v":1.7},{"t":"2024-01-01T17:10","c":"CAD","v":1.8},{"t":"2024-01-01T17:15","c":"CAD","v":2.0},{"t":"2024-01-01T17:20","c":"CAD","v":-1.7},{"t":"2024-01-01T17:25","c":"CAD","v":-1.5},{"t":"2024-01-01T17:30","c":"CAD","v":-1.5},{"t":"2024-01-01T17:35","c":"CAD","v":-0.8},{"t":"2024-01-01T17:40","c":"CAD","v":-1.4},{"t":"2024-01-01T17:45","c":"CAD","v":-0.8},{"t":"2024-01-01T17:50","c":"CAD","v":-1.3},{"t":"2024-01-01T17:55","c":"CAD","v":-1.2},
{"t":"2024-01-01T18:00","c":"CAD","v":0.0},{"t":"2024-01-01T18:05","c":"CAD","v":1.1},{"t":"2024-01-01T18:10","c":"CAD","v":1.5},{"t":"2024-01-01T18:15","c":"CAD","v":1.1},{"t":"2024-01-01T18:20","c":"CAD","v":0.9},{"t":"2024-01-01T18:25","c":"CAD","v":0.5},{"t":"2024-01-01T18:30","c":"CAD","v":0.4},{"t":"2024-01-01T18:35","c":"CAD","v":1.3},{"t":"2024-01-01T18:40","c":"CAD","v":1.4},{"t":"2024-01-01T18:45","c":"CAD","v":1.1},{"t":"2024-01-01T18:50","c":"CAD","v":1.0},{"t":"2024-01-01T18:55","c":"CAD","v":1.5},
{"t":"2024-01-01T19:00","c":"CAD","v":1.2},{"t":"2024-01-01T19:05","c":"CAD","v":1.1},{"t":"2024-01-01T19:10","c":"CAD","v":0.9},{"t":"2024-01-01T19:15","c":"CAD","v":0.6},{"t":"2024-01-01T19:20","c":"CAD","v":0.3},{"t":"2024-01-01T19:25","c":"CAD","v":-0.4},{"t":"2024-01-01T19:30","c":"CAD","v":-1.4},{"t":"2024-01-01T19:35","c":"CAD","v":-1.4},{"t":"2024-01-01T19:40","c":"CAD","v":-1.2},{"t":"2024-01-01T19:45","c":"CAD","v":-1.3},{"t":"2024-01-01T19:50","c":"CAD","v":-1.7},{"t":"2024-01-01T19:55","c":"CAD","v":-1.1},
{"t":"2024-01-01T20:00","c":"CAD","v":-1.4},{"t":"2024-01-01T20:05","c":"CAD","v":0.3},{"t":"2024-01-01T20:10","c":"CAD","v":0.3},{"t":"2024-01-01T20:15","c":"CAD","v":0.2},{"t":"2024-01-01T20:20","c":"CAD","v":-0.8},{"t":"2024-01-01T20:25","c":"CAD","v":-0.7},{"t":"2024-01-01T20:30","c":"CAD","v":-0.2},{"t":"2024-01-01T20:35","c":"CAD","v":-0.1},{"t":"2024-01-01T20:40","c":"CAD","v":0.4},{"t":"2024-01-01T20:45","c":"CAD","v":0.3},{"t":"2024-01-01T20:50","c":"CAD","v":1.3},{"t":"2024-01-01T20:55","c":"CAD","v":1.2},
{"t":"2024-01-01T21:00","c":"CAD","v":0.3},{"t":"2024-01-01T21:05","c":"CAD","v":0.3},{"t":"2024-01-01T21:10","c":"CAD","v":-0.7},{"t":"2024-01-01T21:15","c":"CAD","v":-1.7},{"t":"2024-01-01T21:20","c":"CAD","v":-1.0},{"t":"2024-01-01T21:25","c":"CAD","v":-0.3},{"t":"2024-01-01T21:30","c":"CAD","v":0.9},{"t":"2024-01-01T21:35","c":"CAD","v":1.0},{"t":"2024-01-01T21:40","c":"CAD","v":1.1},{"t":"2024-01-01T21:45","c":"CAD","v":2.3},{"t":"2024-01-01T21:50","c":"CAD","v":2.3},{"t":"2024-01-01T21:55","c":"CAD","v":2.3},
{"t":"2024-01-01T22:00","c":"CAD","v":3.9},{"t":"2024-01-01T22:05","c":"CAD","v":4.4},{"t":"2024-01-01T22:10","c":"CAD","v":5.3},{"t":"2024-01-01T22:15","c":"CAD","v":5.4},{"t":"2024-01-01T22:20","c":"CAD","v":5.0},{"t":"2024-01-01T22:25","c":"CAD","v":4.6},{"t":"2024-01-01T22:30","c":"CAD","v":5.4},{"t":"2024-01-01T22:35","c":"CAD","v":6.2},{"t":"2024-01-01T22:40","c":"CAD","v":6.2},{"t":"2024-01-01T22:45","c":"CAD","v":6.8},{"t":"2024-01-01T22:50","c":"CAD","v":6.2},{"t":"2024-01-01T22:55","c":"CAD","v":6.2},
{"t":"2024-01-01T23:00","c":"CAD","v":6.0},{"t":"2024-01-01T23:05","c":"CAD","v":6.3},{"t":"2024-01-01T23:10","c":"CAD","v":6.8},{"t":"2024-01-01T23:15","c":"CAD","v":7.3},{"t":"2024-01-01T23:20","c":"CAD","v":8.1},{"t":"2024-01-01T23:25","c":"CAD","v":9.2},{"t":"2024-01-01T23:30","c":"CAD","v":8.9},{"t":"2024-01-01T23:35","c":"CAD","v":9.1},{"t":"2024-01-01T23:40","c":"CAD","v":9.4},{"t":"2024-01-01T23:45","c":"CAD","v":10.7},{"t":"2024-01-01T23:50","c":"CAD","v":9.4},{"t":"2024-01-01T23:55","c":"CAD","v":8.7},
{"t":"2024-01-02T00:00","c":"CAD","v":9.8},{"t":"2024-01-02T00:05","c":"CAD","v":10.6},{"t":"2024-01-02T00:10","c":"CAD","v":10.0},{"t":"2024-01-02T00:15","c":"CAD","v":9.8},{"t":"2024-01-02T00:20","c":"CAD","v":10.8},{"t":"2024-01-02T00:25","c":"CAD","v":11.5},{"t":"2024-01-02T00:30","c":"CAD","v":10.6},{"t":"2024-01-02T00:35","c":"CAD","v":10.9},{"t":"2024-01-02T00:40","c":"CAD","v":11.1},{"t":"2024-01-02T00:45","c":"CAD","v":10.6},{"t":"2024-01-02T00:50","c":"CAD","v":9.7},{"t":"2024-01-02T00:55","c":"CAD","v":9.7},
{"t":"2024-01-02T01:00","c":"CAD","v":10.2},{"t":"2024-01-02T01:05","c":"CAD","v":10.9},{"t":"2024-01-02T01:10","c":"CAD","v":11.4},{"t":"2024-01-02T01:15","c":"CAD","v":12.0},{"t":"2024-01-02T01:20","c":"CAD","v":10.7},{"t":"2024-01-02T01:25","c":"CAD","v":10.5},{"t":"2024-01-02T01:30","c":"CAD","v":10.5},{"t":"2024-01-02T01:35","c":"CAD","v":10.7},{"t":"2024-01-02T01:40","c":"CAD","v":10.2},{"t":"2024-01-02T01:45","c":"CAD","v":10.2},{"t":"2024-01-02T01:50","c":"CAD","v":10.2},{"t":"2024-01-02T01:55","c":"CAD","v":10.9},
{"t":"2024-01-02T02:00","c":"CAD","v":9.8},{"t":"2024-01-02T02:05","c":"CAD","v":15.7},{"t":"2024-01-02T02:10","c":"CAD","v":18.3},{"t":"2024-01-02T02:15","c":"CAD","v":17.2},{"t":"2024-01-02T02:20","c":"CAD","v":17.3},{"t":"2024-01-02T02:25","c":"CAD","v":17.8},{"t":"2024-01-02T02:30","c":"CAD","v":17.1},{"t":"2024-01-02T02:35","c":"CAD","v":17.8},{"t":"2024-01-02T02:40","c":"CAD","v":16.0},{"t":"2024-01-02T02:45","c":"CAD","v":15.9},{"t":"2024-01-02T02:50","c":"CAD","v":14.5},{"t":"2024-01-02T02:55","c":"CAD","v":14.7},
{"t":"2024-01-02T03:00","c":"CAD","v":14.5},
{"t":"2024-01-01T17:00","c":"NZD","v":0},{"t":"2024-01-01T17:05","c":"NZD","v":-1.5},{"t":"2024-01-01T17:10","c":"NZD","v":-0.8},{"t":"2024-01-01T17:15","c":"NZD","v":-1.3},{"t":"2024-01-01T17:20","c":"NZD","v":-0.4},{"t":"2024-01-01T17:25","c":"NZD","v":-0.3},{"t":"2024-01-01T17:30","c":"NZD","v":-1.3},{"t":"2024-01-01T17:35","c":"NZD","v":-2.4},{"t":"2024-01-01T17:40","c":"NZD","v":-2.6},{"t":"2024-01-01T17:45","c":"NZD","v":-2.5},{"t":"2024-01-01T17:50","c":"NZD","v":-2.5},{"t":"2024-01-01T17:55","c":"NZD","v":-2.1},
{"t":"2024-01-01T18:00","c":"NZD","v":-0.3},{"t":"2024-01-01T18:05","c":"NZD","v":-1.6},{"t":"2024-01-01T18:10","c":"NZD","v":-3.4},{"t":"2024-01-01T18:15","c":"NZD","v":-1.6},{"t":"2024-01-01T18:20","c":"NZD","v":-1.0},{"t":"2024-01-01T18:25","c":"NZD","v":-0.8},{"t":"2024-01-01T18:30","c":"NZD","v":0.5},{"t":"2024-01-01T18:35","c":"NZD","v":0.7},{"t":"2024-01-01T18:40","c":"NZD","v":-0.2},{"t":"2024-01-01T18:45","c":"NZD","v":0.5},{"t":"2024-01-01T18:50","c":"NZD","v":1.1},{"t":"2024-01-01T18:55","c":"NZD","v":0.7},
{"t":"2024-01-01T19:00","c":"NZD","v":0.3},{"t":"2024-01-01T19:05","c":"NZD","v":0.3},{"t":"2024-01-01T19:10","c":"NZD","v":2.1},{"t":"2024-01-01T19:15","c":"NZD","v":3.1},{"t":"2024-01-01T19:20","c":"NZD","v":4.1},{"t":"2024-01-01T19:25","c":"NZD","v":4.4},{"t":"2024-01-01T19:30","c":"NZD","v":4.6},{"t":"2024-01-01T19:35","c":"NZD","v":4.7},{"t":"2024-01-01T19:40","c":"NZD","v":2.7},{"t":"2024-01-01T19:45","c":"NZD","v":0.0},{"t":"2024-01-01T19:50","c":"NZD","v":3.3},{"t":"2024-01-01T19:55","c":"NZD","v":2.5},
{"t":"2024-01-01T20:00","c":"NZD","v":2.9},{"t":"2024-01-01T20:05","c":"NZD","v":3.6},{"t":"2024-01-01T20:10","c":"NZD","v":4.9},{"t":"2024-01-01T20:15","c":"NZD","v":3.6},{"t":"2024-01-01T20:20","c":"NZD","v":3.4},{"t":"2024-01-01T20:25","c":"NZD","v":2.8},{"t":"2024-01-01T20:30","c":"NZD","v":0.1},{"t":"2024-01-01T20:35","c":"NZD","v":1.2},{"t":"2024-01-01T20:40","c":"NZD","v":1.8},{"t":"2024-01-01T20:45","c":"NZD","v":2.8},{"t":"2024-01-01T20:50","c":"NZD","v":-0.3},{"t":"2024-01-01T20:55","c":"NZD","v":-0.8},
{"t":"2024-01-01T21:00","c":"NZD","v":0.5},{"t":"2024-01-01T21:05","c":"NZD","v":0.7},{"t":"2024-01-01T21:10","c":"NZD","v":0.8},{"t":"2024-01-01T21:15","c":"NZD","v":5.1},{"t":"2024-01-01T21:20","c":"NZD","v":0.5},{"t":"2024-01-01T21:25","c":"NZD","v":-0.3},{"t":"2024-01-01T21:30","c":"NZD","v":-4.6},{"t":"2024-01-01T21:35","c":"NZD","v":-4.0},{"t":"2024-01-01T21:40","c":"NZD","v":-4.1},{"t":"2024-01-01T21:45","c":"NZD","v":-8.7},{"t":"2024-01-01T21:50","c":"NZD","v":-9.2},{"t":"2024-01-01T21:55","c":"NZD","v":-8.5},
{"t":"2024-01-01T22:00","c":"NZD","v":-10.2},{"t":"2024-01-01T22:05","c":"NZD","v":-9.1},{"t":"2024-01-01T22:10","c":"NZD","v":-10.5},{"t":"2024-01-01T22:15","c":"NZD","v":-9.8},{"t":"2024-01-01T22:20","c":"NZD","v":-9.8},{"t":"2024-01-01T22:25","c":"NZD","v":-10.6},{"t":"2024-01-01T22:30","c":"NZD","v":-10.7},{"t":"2024-01-01T22:35","c":"NZD","v":-12.0},{"t":"2024-01-01T22:40","c":"NZD","v":-11.5},{"t":"2024-01-01T22:45","c":"NZD","v":-12.2},{"t":"2024-01-01T22:50","c":"NZD","v":-11.6},{"t":"2024-01-01T22:55","c":"NZD","v":-11.1},
{"t":"2024-01-01T23:00","c":"NZD","v":-11.6},{"t":"2024-01-01T23:05","c":"NZD","v":-12.2},{"t":"2024-01-01T23:10","c":"NZD","v":-13.0},{"t":"2024-01-01T23:15","c":"NZD","v":-14.6},{"t":"2024-01-01T23:20","c":"NZD","v":-17.4},{"t":"2024-01-01T23:25","c":"NZD","v":-20.3},{"t":"2024-01-01T23:30","c":"NZD","v":-20.4},{"t":"2024-01-01T23:35","c":"NZD","v":-21.9},{"t":"2024-01-01T23:40","c":"NZD","v":-24.3},{"t":"2024-01-01T23:45","c":"NZD","v":-25.0},{"t":"2024-01-01T23:50","c":"NZD","v":-28.9},{"t":"2024-01-01T23:55","c":"NZD","v":-24.0},
{"t":"2024-01-02T00:00","c":"NZD","v":-25.6},{"t":"2024-01-02T00:05","c":"NZD","v":-27.4},{"t":"2024-01-02T00:10","c":"NZD","v":-26.6},{"t":"2024-01-02T00:15","c":"NZD","v":-27.3},{"t":"2024-01-02T00:20","c":"NZD","v":-30.0},{"t":"2024-01-02T00:25","c":"NZD","v":-28.3},{"t":"2024-01-02T00:30","c":"NZD","v":-26.7},{"t":"2024-01-02T00:35","c":"NZD","v":-29.3},{"t":"2024-01-02T00:40","c":"NZD","v":-30.8},{"t":"2024-01-02T00:45","c":"NZD","v":-28.8},{"t":"2024-01-02T00:50","c":"NZD","v":-26.9},{"t":"2024-01-02T00:55","c":"NZD","v":-26.9},
{"t":"2024-01-02T01:00","c":"NZD","v":-27.2},{"t":"2024-01-02T01:05","c":"NZD","v":-28.3},{"t":"2024-01-02T01:10","c":"NZD","v":-29.3},{"t":"2024-01-02T01:15","c":"NZD","v":-31.8},{"t":"2024-01-02T01:20","c":"NZD","v":-30.7},{"t":"2024-01-02T01:25","c":"NZD","v":-29.7},{"t":"2024-01-02T01:30","c":"NZD","v":-30.7},{"t":"2024-01-02T01:35","c":"NZD","v":-31.8},{"t":"2024-01-02T01:40","c":"NZD","v":-30.7},{"t":"2024-01-02T01:45","c":"NZD","v":-32.5},{"t":"2024-01-02T01:50","c":"NZD","v":-32.5},{"t":"2024-01-02T01:55","c":"NZD","v":-33.8},
{"t":"2024-01-02T02:00","c":"NZD","v":-32.6},{"t":"2024-01-02T02:05","c":"NZD","v":-36.4},{"t":"2024-01-02T02:10","c":"NZD","v":-37.7},{"t":"2024-01-02T02:15","c":"NZD","v":-38.9},{"t":"2024-01-02T02:20","c":"NZD","v":-38.7},{"t":"2024-01-02T02:25","c":"NZD","v":-38.8},{"t":"2024-01-02T02:30","c":"NZD","v":-34.5},{"t":"2024-01-02T02:35","c":"NZD","v":-33.1},{"t":"2024-01-02T02:40","c":"NZD","v":-33.3},{"t":"2024-01-02T02:45","c":"NZD","v":-34.5},{"t":"2024-01-02T02:50","c":"NZD","v":-36.4},{"t":"2024-01-02T02:55","c":"NZD","v":-37.7},
{"t":"2024-01-02T03:00","c":"NZD","v":-33.0}
]},
"mark":{"type":"line","strokeWidth":1.5,"interpolate":"linear"},
"encoding":{
"x":{"field":"t","type":"temporal","scale":{"nice":false},
"axis":{"title":null,"format":"%-H:%M","tickCount":10,"grid":true,"gridColor":"#e2e2e2","gridWidth":1,"domain":false,"ticks":false,"labelFlush":false,"labelPadding":7,"labelFontSize":14,"labelColor":"#111","labelFont":"Liberation Sans",
"labelFontWeight":{"condition":{"test":"datum.index === 0 || datum.index === 1","value":"bold"},"value":"normal"}}},
"y":{"field":"v","type":"quantitative","scale":{"domain":[-39.1,18.37],"nice":false,"zero":false},
"axis":{"title":null,"values":[-35,-30,-25,-20,-15,-10,-5,0,5,10,15],"grid":true,"gridWidth":1,"gridColor":"#e2e2e2",
"labelExpr":"replace(datum.label, '\u2212', '-')",
"domain":true,"domainColor":"#333333","domainWidth":1.5,"ticks":false,"labelPadding":3,"labelFontSize":14,"labelColor":"#111","labelFont":"Liberation Sans"}},
"color":{"field":"c","type":"nominal",
"scale":{"domain":["USD","EUR","JPY","GBP","AUD","CHF","CAD","NZD"],"range":["#ff9900","#ff0000","#11ccff","#00cc00","#0a3cff","#996611","#9a10ff","#ff33cc"]},
"legend":{"title":null,"orient":"none","legendX":584,"legendY":-22,"direction":"horizontal","columns":8,"padding":0,"offset":0,
"symbolType":"circle","symbolSize":135,"symbolStrokeWidth":0,"labelFontSize":14,"labelColor":"#111","labelFont":"Liberation Sans","labelOffset":3,"columnPadding":14.2,
"encode":{"symbols":{"update":{"fill":{"scale":"color","field":"value"},"stroke":{"value":"transparent"},"opacity":{"value":1}}}}}}
}
}
]
}
